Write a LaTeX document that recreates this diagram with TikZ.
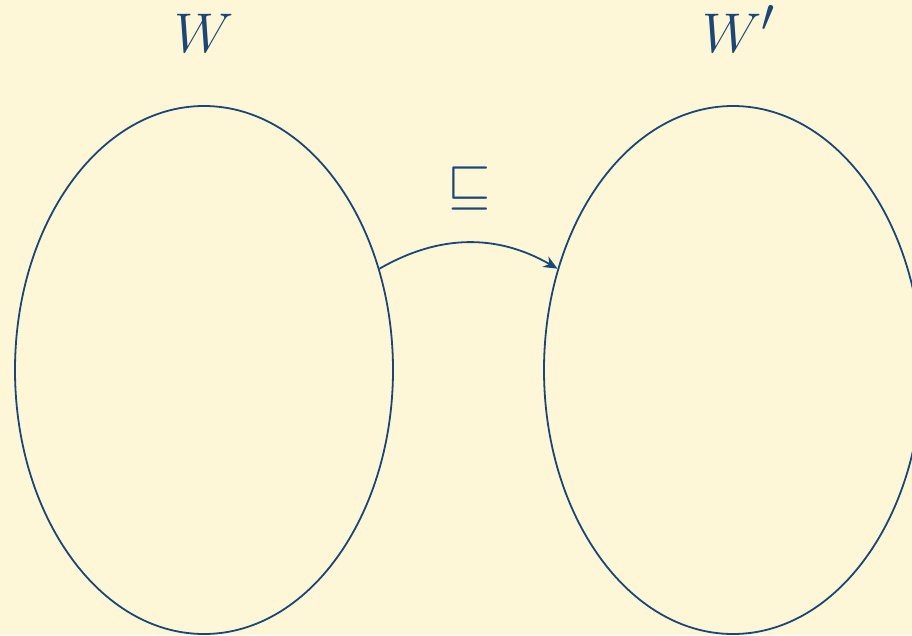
\documentclass[tikz,border=0pt]{standalone}
\usepackage{graphicx}
\usetikzlibrary{shapes.geometric,arrows.meta}
\definecolor{bg}{RGB}{253,247,215}
\definecolor{ink}{RGB}{27,70,120}
\newcommand{\bigmath}[1]{\scalebox{2.25}{\Huge$#1$}}
\begin{document}
\begin{tikzpicture}[x=1pt,y=-1pt,
  world/.style={draw=ink,line width=1.8pt,ellipse,minimum width=378pt,minimum height=528pt,inner sep=0pt},
  lbl/.style={text=ink,inner sep=0pt,anchor=base},
  rel/.style={draw=ink,line width=1.8pt,-{Stealth[length=14pt,width=12pt]}}]
\fill[bg] (0,0) rectangle (912,635);
\useasboundingbox (0,0) rectangle (912,635);
\node[world] (L) at (204,370) {};
\node[world] (R) at (733,370) {};
\node[lbl] (wl) at (204,52) {\bigmath{W}};
\node[lbl] (wr) at (739,52) {\bigmath{W'}};
\node[lbl] (sq) at (469.5,202.5) {\bigmath{\sqsubseteq}};
\draw[rel] (L.30) to[bend left=30] (R.150);
\end{tikzpicture}
\end{document}
